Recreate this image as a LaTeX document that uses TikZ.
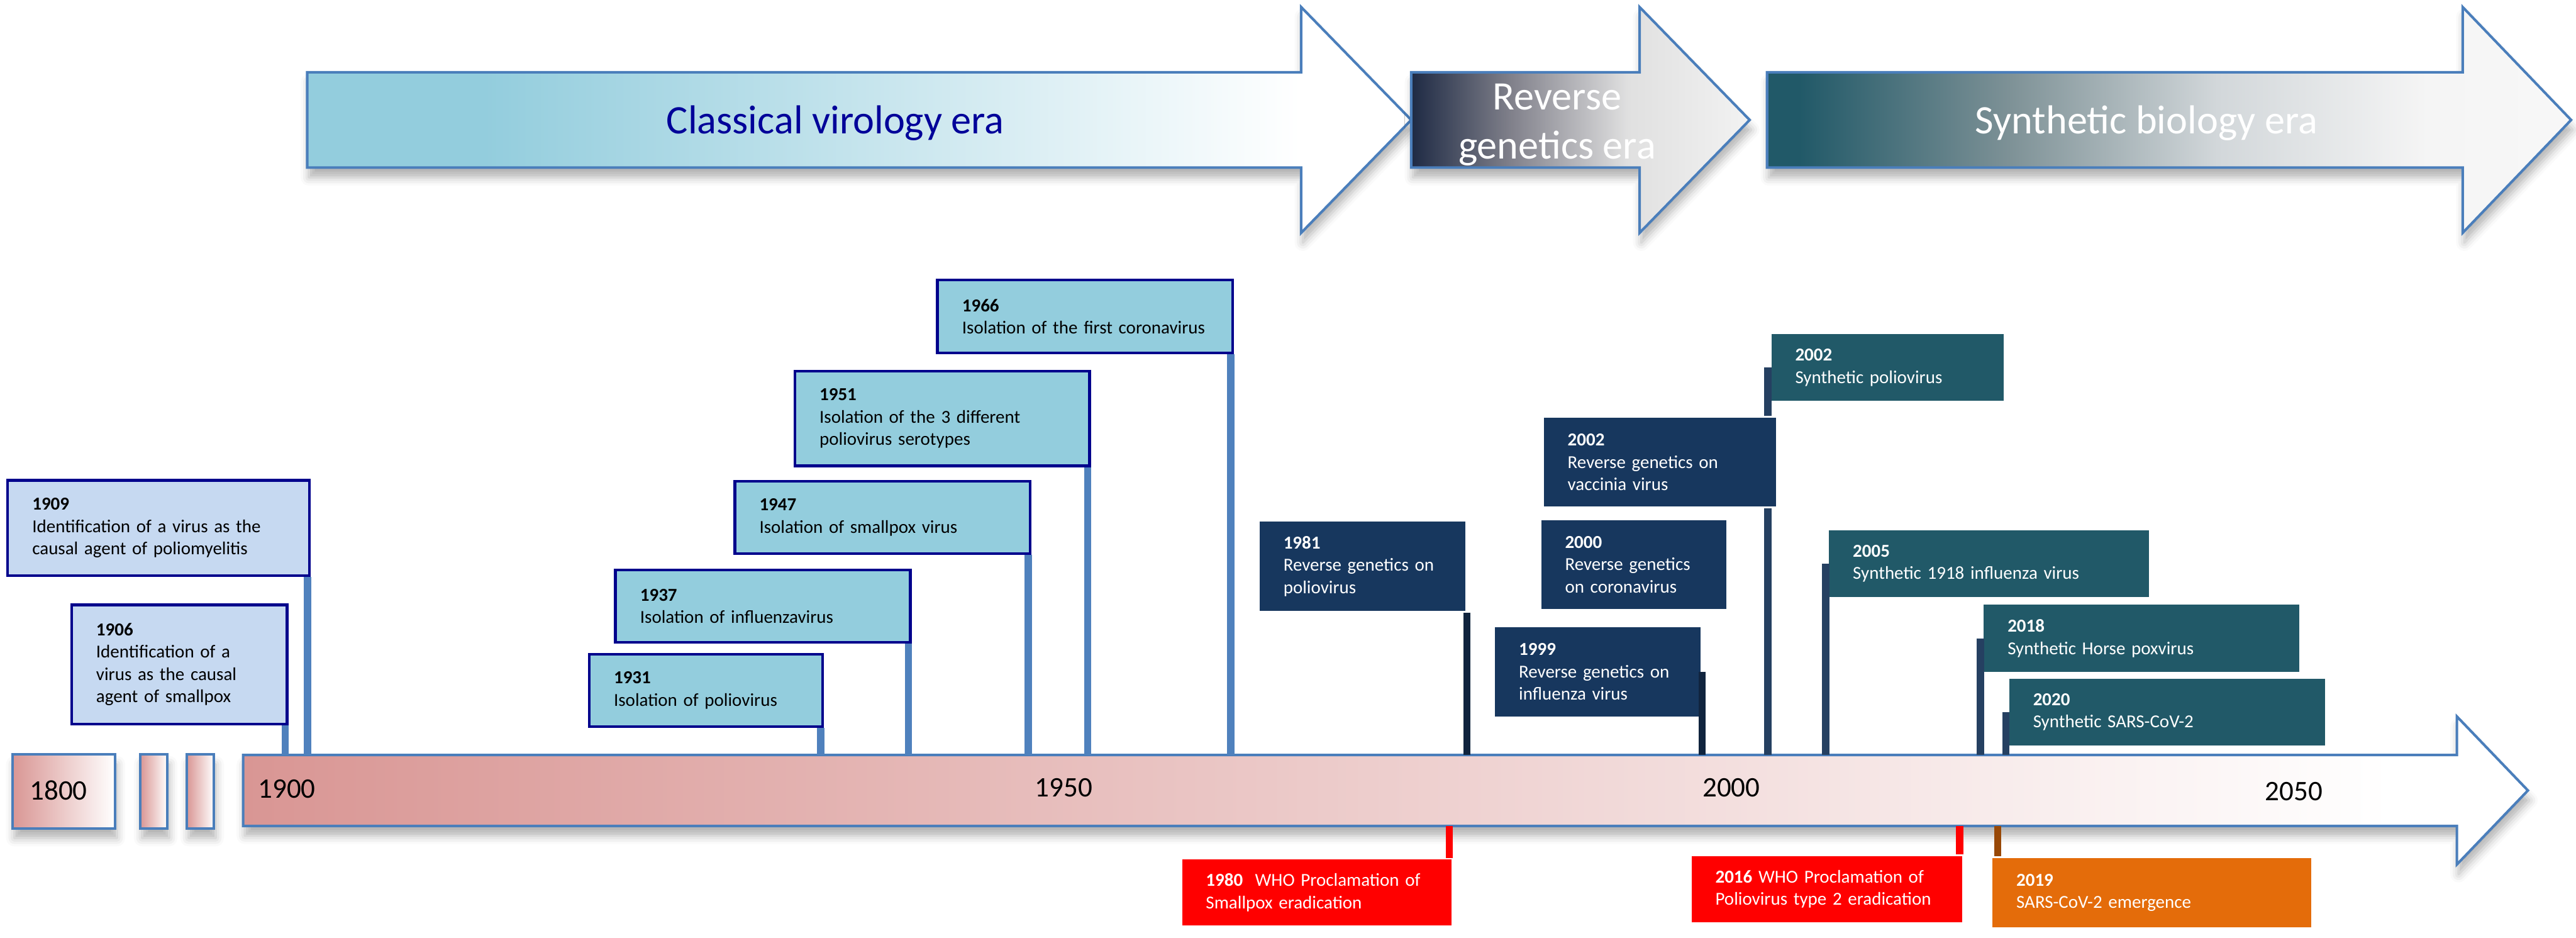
\documentclass[tikz,border=0pt]{standalone}
\usepackage{fontspec}
\setmainfont{Carlito}
\usepackage{tikz}
\usetikzlibrary{positioning, calc, shadows.blur}
\definecolor{tlRose}{HTML}{D99694}
\definecolor{tlRim}{HTML}{4A7EBB}
\definecolor{evPale}{HTML}{C6D9F1}
\definecolor{evCyan}{HTML}{93CDDD}
\definecolor{evEdge}{HTML}{00008C}
\definecolor{evNavy}{HTML}{17375E}
\definecolor{evTeal}{HTML}{215968}
\definecolor{evRed}{HTML}{FF0000}
\definecolor{evOrange}{HTML}{E46C0A}
\definecolor{stemBlue}{HTML}{4F81BD}
\definecolor{stemNavy}{HTML}{10243E}
\definecolor{stemSlate}{HTML}{254061}
\definecolor{stemBrown}{HTML}{984807}
\definecolor{eraInk}{HTML}{000099}
\definecolor{revDark}{HTML}{1E2A44}
\definecolor{revMid}{HTML}{82828C}
\definecolor{revLight}{HTML}{E0E0E0}
\definecolor{synMid}{HTML}{7D9196}
\definecolor{synLight}{HTML}{D2D7DA}
\pgfdeclarehorizontalshading{classicfade}{100bp}{color(0bp)=(evCyan); color(33bp)=(evCyan); color(70bp)=(white); color(100bp)=(white)}
\pgfdeclarehorizontalshading{reversefade}{100bp}{color(0bp)=(revDark); color(25bp)=(revDark); color(40bp)=(revMid); color(57bp)=(revLight); color(75bp)=(white!95!black); color(100bp)=(white!95!black)}
\pgfdeclarehorizontalshading{synthfade}{100bp}{color(0bp)=(evTeal); color(27bp)=(evTeal); color(40bp)=(synMid); color(53bp)=(synLight); color(66bp)=(white!96!black); color(100bp)=(white)}
\pgfdeclarehorizontalshading{axisfade}{100bp}{color(0bp)=(tlRose); color(25bp)=(tlRose); color(72bp)=(white); color(100bp)=(white)}

\begin{document}
\begin{tikzpicture}[x=1cm, y=-1cm,
  evbox/.style={inner xsep=0.75cm, inner ysep=0pt, align=left, anchor=north west,
    font=\fontsize{15.8}{19.3}\selectfont},
  evlight/.style={evbox, draw=evEdge, line width=2.4pt, fill=evPale},
  evcyan/.style={evbox, draw=evEdge, line width=2.4pt, fill=evCyan},
  evnavy/.style={evbox, draw=white, line width=1.5pt, fill=evNavy, text=white},
  evteal/.style={evbox, draw=white, line width=1.5pt, fill=evTeal, text=white},
  evalert/.style={evbox, draw=white, line width=1.5pt, text=white},
  stemline/.style={line width=6.4pt},
  rimline/.style={draw=tlRim, line width=2.2pt},
  softshadow/.style={blur shadow={shadow xshift=0.05cm, shadow yshift=-0.3cm,
    shadow blur radius=0.25cm, shadow opacity=30}},
  yearlbl/.style={font=\fontsize{24.5}{29}\selectfont, inner sep=0pt, anchor=base west},
  eralbl/.style={font=\fontsize{35}{42.3}\selectfont, inner sep=0pt},
]
  \useasboundingbox (0,0) rectangle (78.4,28.53);

  \shadedraw[shading=classicfade, rimline, softshadow]
    (9.35,2.2) -- (39.6,2.2) -- (39.6,0.215) -- (42.95,3.65) -- (39.6,7.085) -- (39.6,5.1) -- (9.35,5.1) -- cycle;
  \shadedraw[shading=reversefade, rimline, softshadow]
    (42.95,2.2) -- (49.9,2.2) -- (49.9,0.215) -- (53.25,3.65) -- (49.9,7.085) -- (49.9,5.1) -- (42.95,5.1) -- cycle;
  \shadedraw[shading=synthfade, rimline, softshadow]
    (53.78,2.2) -- (74.95,2.2) -- (74.95,0.215) -- (78.25,3.65) -- (74.95,7.085) -- (74.95,5.1) -- (53.78,5.1) -- cycle;
  \node[eralbl, text=eraInk, anchor=base] (tclassic) at (25.425,4.07) {Classical virology era};
  \node[eralbl, text=white, align=center] (treverse) at (47.39,3.8) {Reverse\\genetics era};
  \node[eralbl, text=white, anchor=base] (tsynth) at (65.325,4.07) {Synthetic biology era};

  \shadedraw[shading=axisfade, rimline, softshadow]
    (7.4,22.97) -- (74.775,22.97) -- (74.775,21.8) -- (76.935,24.05) -- (74.775,26.3) -- (74.775,25.13) -- (7.4,25.13) -- cycle;
  \shadedraw[left color=tlRose, right color=white, rimline, softshadow] (0.385,22.95) rectangle (3.51,25.2);
  \shadedraw[left color=tlRose, right color=white, rimline, softshadow] (4.275,22.95) rectangle (5.1,25.2);
  \shadedraw[left color=tlRose, right color=white, rimline, softshadow] (5.69,22.95) rectangle (6.515,25.2);
  \coordinate (axtop) at (0,22.97);
  \coordinate (axbot) at (0,25.13);

  \node[yearlbl] (y1800) at (0.9,24.33) {1800};
  \node[yearlbl] (y1900) at (7.85,24.28) {1900};
  \node[yearlbl] (y1950) at (31.49,24.25) {1950};
  \node[yearlbl] (y2000) at (51.81,24.24) {2000};
  \node[yearlbl] (y2050) at (68.93,24.35) {2050};

  \node[evlight, text width=7.69cm, minimum height=2.905cm] (e1909) at (0.19,14.57)
    {\textbf{1909}\\Identification of a virus as the\\causal agent of poliomyelitis};
  \node[evlight, text width=5.06cm, minimum height=3.62cm] (e1906) at (2.135,18.365)
    {\textbf{1906}\\Identification of a\\virus as the causal\\agent of smallpox};
  \node[evcyan, text width=5.605cm, minimum height=2.2cm] (e1931) at (17.89,19.865)
    {\textbf{1931}\\Isolation of poliovirus};
  \node[evcyan, text width=7.475cm, minimum height=2.2cm] (e1937) at (18.69,17.3)
    {\textbf{1937}\\Isolation of influenzavirus};
  \node[evcyan, text width=7.49cm, minimum height=2.2cm] (e1947) at (22.32,14.6)
    {\textbf{1947}\\Isolation of smallpox virus};
  \node[evcyan, text width=7.47cm, minimum height=2.88cm] (e1951) at (24.15,11.25)
    {\textbf{1951}\\Isolation of the 3 different\\poliovirus serotypes};
  \node[evcyan, text width=7.485cm, minimum height=2.225cm] (e1966) at (28.49,8.475)
    {\textbf{1966}\\Isolation of the first coronavirus};

  \node[evteal, text width=5.615cm, minimum height=2.08cm] (e2002s) at (53.86,10.12)
    {\textbf{2002}\\Synthetic poliovirus};

  \draw[stemline, stemBlue] ([xshift=-0.1cm]e1909.south east) -- ([xshift=-0.1cm]e1909.south east |- axtop);
  \draw[stemline, stemBlue] ([xshift=-0.1cm]e1906.south east) -- ([xshift=-0.1cm]e1906.south east |- axtop);
  \draw[stemline, stemBlue] ([xshift=-0.1cm]e1931.south east) -- ([xshift=-0.1cm]e1931.south east |- axtop);
  \draw[stemline, stemBlue] ([xshift=-0.1cm]e1937.south east) -- ([xshift=-0.1cm]e1937.south east |- axtop);
  \draw[stemline, stemBlue] ([xshift=-0.1cm]e1947.south east) -- ([xshift=-0.1cm]e1947.south east |- axtop);
  \draw[stemline, stemBlue] ([xshift=-0.1cm]e1951.south east) -- ([xshift=-0.1cm]e1951.south east |- axtop);
  \draw[stemline, stemBlue] ([xshift=-0.1cm]e1966.south east) -- ([xshift=-0.1cm]e1966.south east |- axtop);
  \draw[stemline, stemSlate] ([xshift=-0.05cm]e2002s.west) -- ([xshift=-0.05cm]e2002s.west |- axtop);

  \node[evnavy, text width=4.805cm, minimum height=2.77cm] (e1981) at (38.285,15.815)
    {\textbf{1981}\\Reverse genetics on\\poliovirus};
  \node[evnavy, text width=5.615cm, minimum height=2.75cm] (e2002r) at (46.935,12.66)
    {\textbf{2002}\\Reverse genetics on\\vaccinia virus};
  \node[evnavy, text width=4.18cm, minimum height=2.75cm] (e2000) at (46.855,15.775)
    {\textbf{2000}\\Reverse genetics\\on coronavirus};
  \node[evnavy, text width=4.8cm, minimum height=2.77cm] (e1999) at (45.45,19.025)
    {\textbf{1999}\\Reverse genetics on\\influenza virus};
  \node[evteal, text width=8.285cm, minimum height=2.08cm] (e2005) at (55.615,16.075)
    {\textbf{2005}\\Synthetic 1918 influenza virus};
  \node[evteal, text width=8.15cm, minimum height=2.1cm] (e2018) at (60.325,18.35)
    {\textbf{2018}\\Synthetic Horse poxvirus};
  \node[evteal, text width=8.17cm, minimum height=2.08cm] (e2020) at (61.1,20.595)
    {\textbf{2020}\\Synthetic SARS-CoV-2};

  \draw[stemline, stemNavy] (e1981.south east) -- (e1981.south east |- axtop);
  \draw[stemline, stemNavy] (e1999.east) -- (e1999.east |- axtop);
  \draw[stemline, stemSlate] ([xshift=-0.05cm]e2005.west) -- ([xshift=-0.05cm]e2005.west |- axtop);
  \draw[stemline, stemSlate] ([xshift=-0.05cm]e2018.west) -- ([xshift=-0.05cm]e2018.west |- axtop);
  \draw[stemline, stemSlate] ([xshift=-0.05cm]e2020.west) -- ([xshift=-0.05cm]e2020.west |- axtop);

  \node[evalert, fill=evRed, text width=6.76cm, minimum height=2.065cm] (e1980) at (35.925,26.1)
    {\textbf{1980}\ \ WHO Proclamation of\\Smallpox eradication};
  \node[evalert, fill=evRed, text width=6.78cm, minimum height=2.07cm] (e2016) at (51.43,25.99)
    {\textbf{2016} WHO Proclamation of\\Poliovirus type 2 eradication};
  \node[evalert, fill=evOrange, text width=8.25cm, minimum height=2.17cm] (e2019) at (60.59,26.05)
    {\textbf{2019}\\SARS-CoV-2 emergence};

  \draw[stemline, evRed] ([xshift=-0.13cm]e1980.north east) -- ([xshift=-0.13cm]e1980.north east |- axbot);
  \draw[stemline, evRed] ([xshift=-0.12cm]e2016.north east) -- ([xshift=-0.12cm]e2016.north east |- axbot);
  \draw[stemline, stemBrown] ([xshift=0.21cm]e2019.north west) -- ([xshift=0.21cm]e2019.north west |- axbot);
\end{tikzpicture}
\end{document}
